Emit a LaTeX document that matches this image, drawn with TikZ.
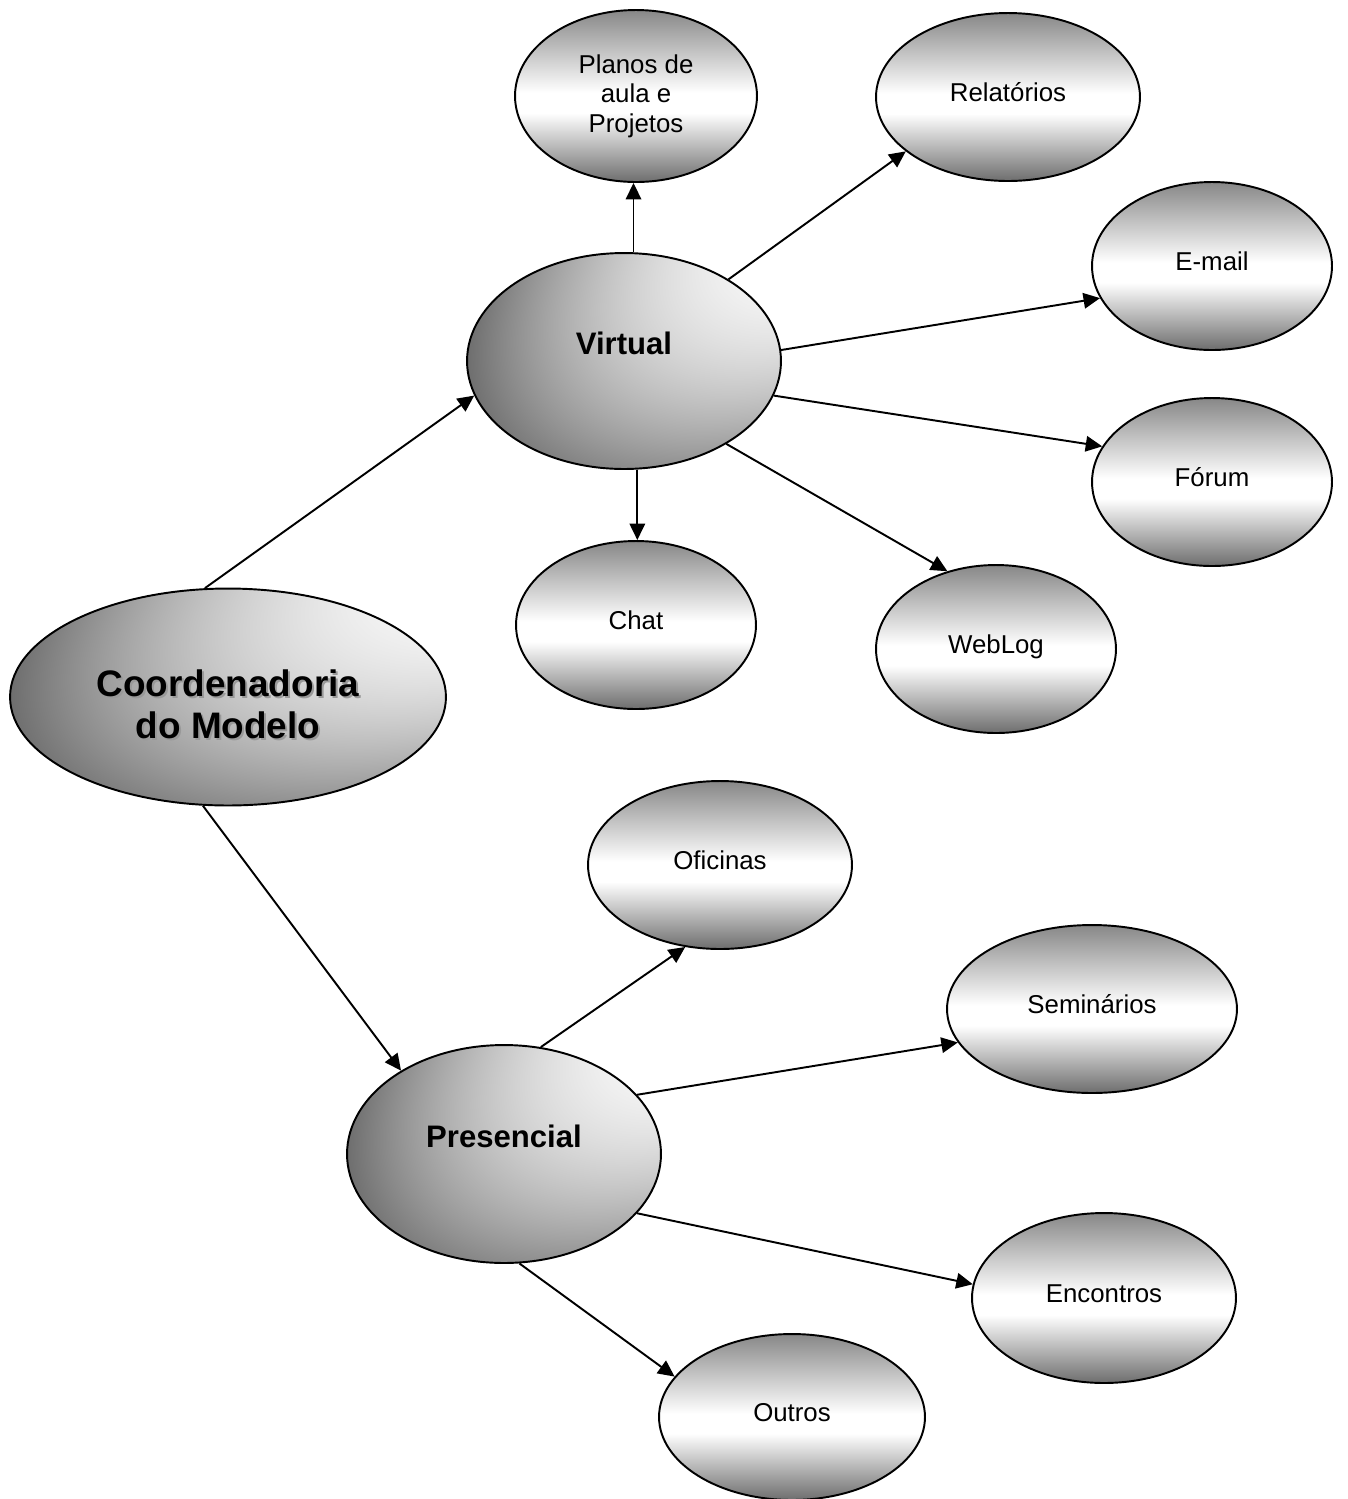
\documentclass[tikz,border=0pt]{standalone}
\usepackage{fontspec}
\setmainfont{Liberation Sans}
\usetikzlibrary{arrows.meta,shapes.geometric}
\pgfdeclareverticalshading{smallsh}{100bp}{color(0bp)=(black!57); color(25bp)=(black!57); color(45bp)=(white); color(51bp)=(white); color(75bp)=(black!47); color(100bp)=(black!47)}
\pgfdeclarefunctionalshading{bigsh}{\pgfpointorigin}{\pgfpoint{100bp}{100bp}}{}{
  50 sub 25 div exch 50 sub 25 div exch
  2 copy mul 30 mul
  3 1 roll
  dup dup mul 27 mul neg
  exch 31 mul add
  exch dup dup mul 33 mul neg
  exch 53 mul add
  add add 196 add 255 div
  dup 1 gt {pop 1} if
  dup 0 lt {pop 0} if
  dup dup}
\begin{document}
\begin{tikzpicture}[x=0.02cm, y=-0.02cm,
  ell/.style={ellipse, draw=black, line width=1.1pt, inner sep=0pt},
  smallell/.style={ell, shade, shading=smallsh, font=\fontsize{14.7}{16.7}\selectfont},
  bigell/.style={ell, shade, shading=bigsh},
  one/.style={text height=10.5pt, text depth=5.7pt},
  bigtxt/.style={font=\bfseries\fontsize{17.7}{20}\selectfont, text height=12.7pt, text depth=20.4pt},
  coordtxt/.style={font=\bfseries\fontsize{21}{23.8}\selectfont, align=center, inner sep=0pt},
  conn/.style={line width=1.1pt, -{Triangle[length=0.33cm, width=0.31cm]}}
]
\useasboundingbox (0,0) rectangle (1348,1499);

% central node
\node[bigell, minimum width=8.72cm, minimum height=4.34cm] (coord) at (228,697) {};
\node[coordtxt, text=black!40] (coordsh) at (230,706) {Coordenadoria\\do Modelo};
\node[coordtxt] (coordt) at (228,704) {Coordenadoria\\do Modelo};

% virtual branch
\node[bigell, bigtxt, minimum width=6.28cm, minimum height=4.32cm] (virtual) at (624,361) {Virtual};
\node[smallell, align=center, minimum width=4.84cm, minimum height=3.44cm] (planos) at (636,96) {Planos de\\aula e\\Projetos};
\node[smallell, one, minimum width=5.28cm, minimum height=3.36cm] (rel) at (1008,97) {Relatórios};
\node[smallell, one, minimum width=4.8cm, minimum height=3.36cm] (email) at (1212,266) {E-mail};
\node[smallell, one, minimum width=4.8cm, minimum height=3.36cm] (forum) at (1212,482) {Fórum};
\node[smallell, one, minimum width=4.8cm, minimum height=3.36cm] (chat) at (636,625) {Chat};
\node[smallell, one, minimum width=4.8cm, minimum height=3.36cm] (weblog) at (996,649) {WebLog};

% presencial branch
\node[bigell, bigtxt, minimum width=6.28cm, minimum height=4.36cm] (pres) at (504,1154) {Presencial};
\node[smallell, one, minimum width=5.28cm, minimum height=3.36cm] (ofic) at (720,865) {Oficinas};
\node[smallell, one, minimum width=5.8cm, minimum height=3.36cm] (semin) at (1092,1009) {Seminários};
\node[smallell, one, minimum width=5.28cm, minimum height=3.4cm] (encon) at (1104,1298) {Encontros};
\node[smallell, one, minimum width=5.32cm, minimum height=3.32cm] (outros) at (792,1417) {Outros};

% connectors
\draw[conn] (coord.102.5) -- (virtual.193.3);
\draw[conn] (coord.257.5) -- (pres.141.7);
\draw[conn] (virtual.85.2) -- (virtual.85.2 |- planos.south);
\draw[conn] (virtual.38.6) -- (rel.208.4);
\draw[conn] (virtual.4.4) -- (email.196.7);
\draw[conn] (virtual.-13.3) -- (forum.162.4);
\draw[conn] (virtual.-83.7) -- (virtual.-83.7 |- chat.north);
\draw[conn] (virtual.-39.3) -- (weblog.122.5);
\draw[conn] (pres.71.7) -- (ofic.247);
\draw[conn] (pres.24.8) -- (semin.194.7);
\draw[conn] (pres.-24.1) -- (encon.174.4);
\draw[conn] (pres.-82.6) -- (outros.161.4);
\end{tikzpicture}
\end{document}
